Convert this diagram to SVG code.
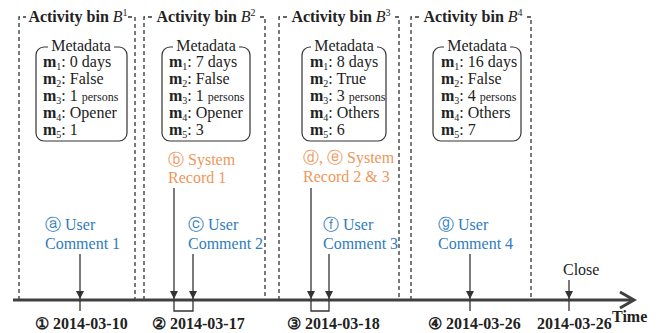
<svg xmlns="http://www.w3.org/2000/svg" width="659" height="333" viewBox="0 0 659 333">
<style>
.bin{fill:none;stroke:#333;stroke-width:1.3;stroke-dasharray:4 3}
.meta{fill:none;stroke:#333;stroke-width:1.2}
.t{font-family:"Liberation Serif","Times New Roman",serif;font-size:16px;fill:#222}
.b{font-weight:bold}
.or{fill:#F0965A}
.bl{fill:#2F7CC0}
.ax{stroke:#404040;stroke-width:3;fill:none}
.ar{stroke:#333;stroke-width:1.3;fill:none;marker-end:url(#ah)}
.tk{stroke:#333;stroke-width:1.3;fill:none}
.sm{font-size:12px}
.sb{font-size:10px}
</style>
<defs>
<marker id="ah" viewBox="0 0 8 8" refX="8" refY="4" markerWidth="8" markerHeight="8" markerUnits="userSpaceOnUse" orient="auto">
<path d="M0,0 L8,4 L0,8 z" fill="#333"/>
</marker>
</defs>
<rect width="659" height="333" fill="#fff"/>

<g id="bin1">
<path class="bin" d="M19,300 V17 H135 V300"/>
<rect x="26" y="8" width="102" height="18" fill="#fff"/>
<text class="t" x="78" y="22" text-anchor="middle"><tspan class="b">Activity bin </tspan><tspan font-style="italic">B</tspan><tspan class="sb" dy="-6">1</tspan></text>
<path class="meta" d="M48,47 H44 A8,8 0 0 0 36,55 V133 A8,8 0 0 0 44,141 H119 A8,8 0 0 0 127,133 V55 A8,8 0 0 0 119,47 H114"/>
<text class="t" x="81" y="51" text-anchor="middle">Metadata</text>
<text class="t" x="43" y="67"><tspan class="b">m</tspan><tspan class="sb" dy="3">1</tspan><tspan dy="-3">: 0 days</tspan></text>
<text class="t" x="43" y="84"><tspan class="b">m</tspan><tspan class="sb" dy="3">2</tspan><tspan dy="-3">: False</tspan></text>
<text class="t" x="43" y="101"><tspan class="b">m</tspan><tspan class="sb" dy="3">3</tspan><tspan dy="-3">: 1 </tspan><tspan class="sm">persons</tspan></text>
<text class="t" x="43" y="118"><tspan class="b">m</tspan><tspan class="sb" dy="3">4</tspan><tspan dy="-3">: Opener</tspan></text>
<text class="t" x="43" y="135"><tspan class="b">m</tspan><tspan class="sb" dy="3">5</tspan><tspan dy="-3">: 1</tspan></text>
</g>

<g id="bin2">
<path class="bin" d="M144,300 V17 H265 V300"/>
<rect x="153" y="8" width="106" height="18" fill="#fff"/>
<text class="t" x="206" y="22" text-anchor="middle"><tspan class="b">Activity bin </tspan><tspan font-style="italic">B</tspan><tspan class="sb" dy="-6">2</tspan></text>
<path class="meta" d="M173,47 H170 A8,8 0 0 0 162,55 V133 A8,8 0 0 0 170,141 H242 A8,8 0 0 0 250,133 V55 A8,8 0 0 0 242,47 H239"/>
<text class="t" x="206" y="51" text-anchor="middle">Metadata</text>
<text class="t" x="169" y="67"><tspan class="b">m</tspan><tspan class="sb" dy="3">1</tspan><tspan dy="-3">: 7 days</tspan></text>
<text class="t" x="169" y="84"><tspan class="b">m</tspan><tspan class="sb" dy="3">2</tspan><tspan dy="-3">: False</tspan></text>
<text class="t" x="169" y="101"><tspan class="b">m</tspan><tspan class="sb" dy="3">3</tspan><tspan dy="-3">: 1 </tspan><tspan class="sm">persons</tspan></text>
<text class="t" x="169" y="118"><tspan class="b">m</tspan><tspan class="sb" dy="3">4</tspan><tspan dy="-3">: Opener</tspan></text>
<text class="t" x="169" y="135"><tspan class="b">m</tspan><tspan class="sb" dy="3">5</tspan><tspan dy="-3">: 3</tspan></text>
</g>

<g id="bin3">
<path class="bin" d="M279,300 V17 H399 V300"/>
<rect x="288" y="8" width="106" height="18" fill="#fff"/>
<text class="t" x="341" y="22" text-anchor="middle"><tspan class="b">Activity bin </tspan><tspan font-style="italic">B</tspan><tspan class="sb" dy="-6">3</tspan></text>
<path class="meta" d="M311,47 H310 A8,8 0 0 0 302,55 V133 A8,8 0 0 0 310,141 H378 A8,8 0 0 0 386,133 V55 A8,8 0 0 0 378,47 H377"/>
<text class="t" x="344" y="51" text-anchor="middle">Metadata</text>
<text class="t" x="310" y="67"><tspan class="b">m</tspan><tspan class="sb" dy="3">1</tspan><tspan dy="-3">: 8 days</tspan></text>
<text class="t" x="310" y="84"><tspan class="b">m</tspan><tspan class="sb" dy="3">2</tspan><tspan dy="-3">: True</tspan></text>
<text class="t" x="310" y="101"><tspan class="b">m</tspan><tspan class="sb" dy="3">3</tspan><tspan dy="-3">: 3 </tspan><tspan class="sm">persons</tspan></text>
<text class="t" x="310" y="118"><tspan class="b">m</tspan><tspan class="sb" dy="3">4</tspan><tspan dy="-3">: Others</tspan></text>
<text class="t" x="310" y="135"><tspan class="b">m</tspan><tspan class="sb" dy="3">5</tspan><tspan dy="-3">: 6</tspan></text>
</g>

<g id="bin4">
<path class="bin" d="M411,300 V17 H531 V300"/>
<rect x="420" y="8" width="106" height="18" fill="#fff"/>
<text class="t" x="473" y="22" text-anchor="middle"><tspan class="b">Activity bin </tspan><tspan font-style="italic">B</tspan><tspan class="sb" dy="-6">4</tspan></text>
<path class="meta" d="M444,47 H441 A8,8 0 0 0 433,55 V133 A8,8 0 0 0 441,141 H513 A8,8 0 0 0 521,133 V55 A8,8 0 0 0 513,47 H510"/>
<text class="t" x="477" y="51" text-anchor="middle">Metadata</text>
<text class="t" x="441" y="67"><tspan class="b">m</tspan><tspan class="sb" dy="3">1</tspan><tspan dy="-3">: 16 days</tspan></text>
<text class="t" x="441" y="84"><tspan class="b">m</tspan><tspan class="sb" dy="3">2</tspan><tspan dy="-3">: False</tspan></text>
<text class="t" x="441" y="101"><tspan class="b">m</tspan><tspan class="sb" dy="3">3</tspan><tspan dy="-3">: 4 </tspan><tspan class="sm">persons</tspan></text>
<text class="t" x="441" y="118"><tspan class="b">m</tspan><tspan class="sb" dy="3">4</tspan><tspan dy="-3">: Others</tspan></text>
<text class="t" x="441" y="135"><tspan class="b">m</tspan><tspan class="sb" dy="3">5</tspan><tspan dy="-3">: 7</tspan></text>
</g>

<g id="event-a"><text class="t bl" x="45" y="230">ⓐ User</text><text class="t bl" x="45" y="249">Comment 1</text></g>
<g id="event-b"><text class="t or" x="168" y="165">ⓑ System</text><text class="t or" x="168" y="183">Record 1</text></g>
<g id="event-c"><text class="t bl" x="188" y="230">ⓒ User</text><text class="t bl" x="188" y="249">Comment 2</text></g>
<g id="event-de"><text class="t or" x="303" y="163">ⓓ, ⓔ System</text><text class="t or" x="303" y="182">Record 2 &amp; 3</text></g>
<g id="event-f"><text class="t bl" x="323" y="230">ⓕ User</text><text class="t bl" x="323" y="249">Comment 3</text></g>
<g id="event-g"><text class="t bl" x="438" y="230">ⓖ User</text><text class="t bl" x="438" y="249">Comment 4</text></g>
<g id="event-close"><text class="t" x="563" y="275">Close</text></g>

<g id="timeline">
<path class="ax" d="M13,300 H633"/>
<path class="ax" d="M620,292 L634,300 L620,308"/>
<text class="t b" x="612" y="322">Time</text>
<text class="t b" x="35" y="329">① 2014-03-10</text>
<text class="t b" x="152" y="329">② 2014-03-17</text>
<text class="t b" x="287" y="329">③ 2014-03-18</text>
<text class="t b" x="428" y="329">④ 2014-03-26</text>
<text class="t b" x="537" y="329">2014-03-26</text>
</g>

<g id="connectors">
<path class="ar" d="M80,254 V299"/>
<path class="ar" d="M174,188 V299"/>
<path class="ar" d="M193,254 V299"/>
<path class="ar" d="M311,188 V299"/>
<path class="ar" d="M329,254 V299"/>
<path class="ar" d="M470,254 V299"/>
<path class="ar" d="M569,280 V299"/>
<path class="tk" d="M80,300 V311 M470,300 V311 M569,300 V311"/>
<path class="tk" d="M174,300 V311 H193 V300 M311,300 V311 H329 V300"/>
</g>
</svg>
